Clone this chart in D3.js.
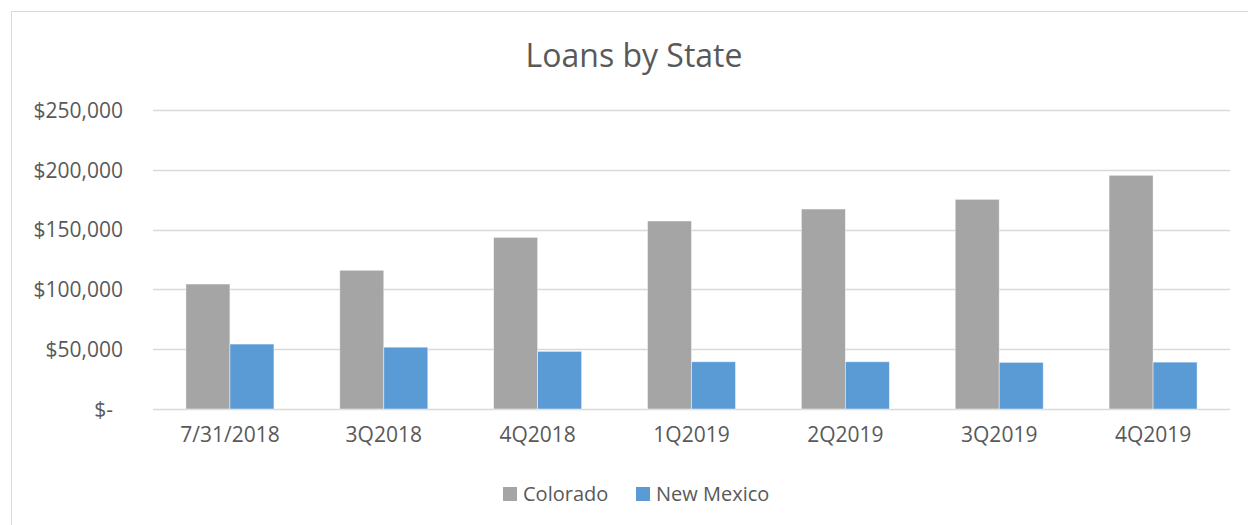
<!DOCTYPE html>
<html>
<head>
<title>Loans by State</title>
<script src="https://cdn.jsdelivr.net/npm/d3@7"></script>
<style>
  body { margin: 0; background: #fff; }
  text { font-family: "Open Sans", sans-serif; fill: #595959; }
</style>
</head>
<body>
<div id="chart"></div>
<script>
  // data
  var categories = ["7/31/2018", "3Q2018", "4Q2018", "1Q2019", "2Q2019", "3Q2019", "4Q2019"];
  var colorado = [104500, 116000, 143500, 157200, 167200, 175300, 195400];
  var newMexico = [54300, 51700, 48200, 39500, 39500, 39000, 39200];
  var seriesNames = ["Colorado", "New Mexico"];
  var seriesColors = ["#A5A5A5", "#5B9BD5"];
  var yTicks = [0, 50000, 100000, 150000, 200000, 250000];

  var width = 1248, height = 525;
  var plotLeft = 153, plotRight = 1230, plotTop = 110, plotBottom = 409;

  var svg = d3.select("#chart").append("svg")
    .attr("width", width)
    .attr("height", height);

  // chart border
  svg.append("rect")
    .attr("x", 11.5).attr("y", 11.5)
    .attr("width", 1260).attr("height", 540)
    .attr("fill", "none")
    .attr("stroke", "#D9D9D9")
    .attr("stroke-width", 1);

  svg.append("text")
    .attr("x", 634).attr("y", 67)
    .attr("text-anchor", "middle")
    .style("font-size", "32px")
    .text("Loans by State");

  var x = d3.scaleBand().domain(categories).range([plotLeft, plotRight])
    .paddingInner(0.428).paddingOuter(0.214);
  var x1 = d3.scaleBand().domain(seriesNames).range([0, x.bandwidth()]);
  var y = d3.scaleLinear().domain([0, 250000]).range([plotBottom, plotTop]);

  // gridlines
  svg.append("g").selectAll("line").data(yTicks).enter().append("line")
    .attr("x1", plotLeft).attr("x2", plotRight)
    .attr("y1", function(d) { return Math.round(y(d)) + 0.5; })
    .attr("y2", function(d) { return Math.round(y(d)) + 0.5; })
    .attr("stroke", "#D9D9D9")
    .attr("stroke-width", 1.5);

  // y axis labels
  var fmt = d3.format(",");
  var yAxis = d3.axisLeft(y).tickValues(yTicks).tickSize(0).tickPadding(0)
    .tickFormat(function(d) { return d === 0 ? "$-" : "$" + fmt(d); });
  var gy = svg.append("g").attr("transform", "translate(123,0)").call(yAxis);
  gy.select(".domain").remove();
  gy.selectAll("text")
    .style("font-size", "21px")
    .style("fill", "#595959")
    .style("font-family", "'Open Sans', sans-serif")
    .attr("dx", function(d) { return d === 0 ? -10 : 0; })
    .attr("dy", "0.35em");

  // x axis labels
  var xAxis = d3.axisBottom(x).tickSize(0).tickPadding(0);
  var gx = svg.append("g").attr("transform", "translate(0,427)").call(xAxis);
  gx.select(".domain").remove();
  gx.selectAll("text")
    .style("font-size", "21px")
    .style("fill", "#595959")
    .style("font-family", "'Open Sans', sans-serif")
    .attr("dy", "0.72em");

  // bars
  var rows = categories.map(function(c, i) {
    return { cat: c, vals: [colorado[i], newMexico[i]] };
  });
  var groups = svg.append("g").selectAll("g").data(rows).enter().append("g")
    .attr("transform", function(d) { return "translate(" + x(d.cat) + ",0)"; });
  groups.selectAll("rect").data(function(d) { return d.vals; }).enter().append("rect")
    .attr("x", function(d, i) { return x1(seriesNames[i]); })
    .attr("y", function(d) { return y(d); })
    .attr("width", x1.bandwidth())
    .attr("height", function(d) { return plotBottom - y(d); })
    .attr("fill", function(d, i) { return seriesColors[i]; })
    .attr("stroke", "#fff")
    .attr("stroke-opacity", 0.6)
    .attr("stroke-width", 0.75);

  // legend
  var legendX = [503, 636];
  var legend = svg.append("g").selectAll("g").data(seriesNames).enter().append("g")
    .attr("transform", function(d, i) { return "translate(" + legendX[i] + ",487)"; });
  legend.append("rect")
    .attr("width", 14).attr("height", 14)
    .attr("fill", function(d, i) { return seriesColors[i]; });
  legend.append("text")
    .attr("x", 20).attr("y", 7)
    .attr("dy", "0.35em")
    .style("font-size", "20px")
    .text(function(d) { return d; });
</script>
</body>
</html>
